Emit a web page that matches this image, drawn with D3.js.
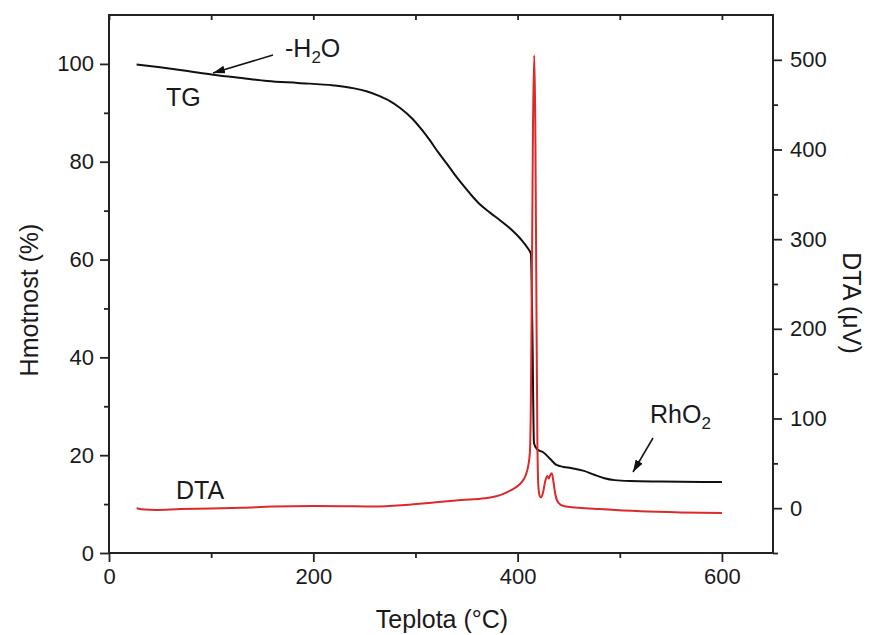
<!DOCTYPE html>
<html>
<head>
<meta charset="utf-8">
<script src="https://cdn.jsdelivr.net/npm/d3@7"></script>
<style>
  html, body { margin: 0; padding: 0; background: #fff; }
  svg { display: block; }
  text { font-family: "Liberation Sans", Arial, Helvetica, sans-serif; fill: #1a1a1a; }
</style>
</head>
<body>
<svg id="chart" width="869" height="635"></svg>
<script>
// ---- Data ----
const tgTemp = [27, 50, 75, 102, 130, 155, 185, 220, 240, 252, 265, 275, 285, 297, 306, 314, 322, 331, 339, 347, 355, 363, 373, 383, 393, 403, 410, 413, 414.5, 416, 419, 425, 432, 438, 445, 452, 465, 475, 485, 495, 510, 540, 600];
const tgMass = [99.9, 99.3, 98.6, 97.8, 97.1, 96.5, 96.1, 95.6, 95.0, 94.4, 93.4, 92.4, 91.0, 88.8, 86.6, 84.4, 82.0, 79.5, 77.2, 75.1, 73.1, 71.3, 69.6, 68.0, 66.3, 64.2, 62.3, 61.2, 45, 22.5, 21.2, 20.6, 19.2, 18.0, 17.6, 17.4, 16.8, 16.0, 15.3, 14.9, 14.7, 14.6, 14.5];

const dtaTemp = [27, 35, 45, 70, 100, 130, 160, 200, 230, 260, 290, 320, 345, 368, 380, 390, 398, 404, 408, 410, 412, 413, 414, 415, 416.3, 417.3, 418.3, 419.3, 420.3, 421.5, 423, 425, 427, 429, 430.5, 432, 433.5, 435, 437, 440, 445, 460, 480, 520, 560, 600];
const dtaVal  = [0, -1.5, -2, -1, -0.3, 0.5, 1.8, 2.5, 2.2, 1.8, 3.5, 6.5, 9, 11, 13.5, 18, 23, 29, 37, 45, 62, 120, 260, 420, 505, 430, 250, 80, 25, 14, 12, 18, 30, 36, 33, 37, 39, 30, 15, 6, 2.5, 0.5, -1, -3.5, -4.8, -5.5];

const xMajor = [0, 200, 400, 600];
const xMinor = [100, 300, 500];
const yLeftMajor = [0, 20, 40, 60, 80, 100];
const yLeftMinor = [10, 30, 50, 70, 90];
const yRightMajor = [0, 100, 200, 300, 400, 500];
const yRightMinor = [-50, 50, 150, 250, 350, 450];

// ---- Layout ----
const L = 109, R = 773, T = 15, B = 553;
const svg = d3.select("#chart");

const x = d3.scaleLinear().domain([0, 650]).range([L, R]);
const yL = d3.scaleLinear().domain([0, 110]).range([B, T]);
const yR = d3.scaleLinear().domain([-50, 550]).range([B, T]);

const axisColor = "#222";

function styleAxis(g, fs) {
  g.select(".domain").remove();
  g.selectAll(".tick line").attr("stroke", axisColor).attr("stroke-width", 1.8);
  g.selectAll(".tick text").attr("font-size", fs).attr("fill", "#1a1a1a")
    .attr("font-family", "'Liberation Sans', Arial, sans-serif");
}

// bottom axis
svg.append("g").attr("transform", `translate(0,${B})`)
  .call(d3.axisBottom(x).tickValues(xMajor).tickSize(9).tickPadding(6).tickFormat(d3.format("d")))
  .call(g => styleAxis(g, 22));
svg.append("g").attr("transform", `translate(0,${B})`)
  .call(d3.axisBottom(x).tickValues(xMinor).tickSize(5).tickFormat(""))
  .call(g => styleAxis(g, 22));
// top ticks (inward)
svg.append("g").attr("transform", `translate(0,${T})`)
  .call(d3.axisBottom(x).tickValues(xMajor.concat(xMinor)).tickSize(5).tickFormat(""))
  .call(g => styleAxis(g, 22));

// left axis
svg.append("g").attr("transform", `translate(${L},0)`)
  .call(d3.axisLeft(yL).tickValues(yLeftMajor).tickSize(9).tickPadding(6).tickFormat(d3.format("d")))
  .call(g => styleAxis(g, 22));
svg.append("g").attr("transform", `translate(${L},0)`)
  .call(d3.axisLeft(yL).tickValues(yLeftMinor).tickSize(5).tickFormat(""))
  .call(g => styleAxis(g, 22));

// right axis
svg.append("g").attr("transform", `translate(${R},0)`)
  .call(d3.axisRight(yR).tickValues(yRightMajor).tickSize(9).tickPadding(8).tickFormat(d3.format("d")))
  .call(g => styleAxis(g, 22));
svg.append("g").attr("transform", `translate(${R},0)`)
  .call(d3.axisRight(yR).tickValues(yRightMinor).tickSize(5).tickFormat(""))
  .call(g => styleAxis(g, 22));

// frame
svg.append("rect").attr("x", L).attr("y", T).attr("width", R - L).attr("height", B - T)
  .attr("fill", "none").attr("stroke", axisColor).attr("stroke-width", 2);

// ---- Lines ----
const tgData = tgTemp.map((t, i) => [t, tgMass[i]]);
const dtaData = dtaTemp.map((t, i) => [t, dtaVal[i]]);

const tgLine = d3.line().x(d => x(d[0])).y(d => yL(d[1])).curve(d3.curveMonotoneX);
const dtaLine = d3.line().x(d => x(d[0])).y(d => yR(d[1])).curve(d3.curveMonotoneX);

svg.append("path").datum(tgData).attr("d", tgLine)
  .attr("fill", "none").attr("stroke", "#111").attr("stroke-width", 2);
svg.append("path").datum(dtaData).attr("d", dtaLine)
  .attr("fill", "none").attr("stroke", "#dc2a2a").attr("stroke-width", 2);

// ---- Annotations ----
const defs = svg.append("defs");
defs.append("marker").attr("id", "arrow").attr("viewBox", "0 0 12 8")
  .attr("refX", 12).attr("refY", 4).attr("markerWidth", 12).attr("markerHeight", 8)
  .attr("markerUnits", "userSpaceOnUse").attr("orient", "auto")
  .append("path").attr("d", "M0,0 L12,4 L0,8 Z").attr("fill", "#111");

function arrow(x1, y1, x2, y2) {
  svg.append("line").attr("x1", x1).attr("y1", y1).attr("x2", x2).attr("y2", y2)
    .attr("stroke", "#111").attr("stroke-width", 1.5).attr("marker-end", "url(#arrow)");
}
arrow(273, 55, 213, 73);
arrow(653, 438, 633, 472);

const lab = svg.append("g").attr("font-size", 25);
lab.append("text").attr("x", 166).attr("y", 106).text("TG");
lab.append("text").attr("x", 176).attr("y", 499).text("DTA");
const h2o = lab.append("text").attr("x", 285).attr("y", 57);
h2o.append("tspan").text("-H");
h2o.append("tspan").attr("font-size", 17).attr("dy", 6).text("2");
h2o.append("tspan").attr("dy", -6).text("O");
const rho = lab.append("text").attr("x", 650).attr("y", 423);
rho.append("tspan").text("RhO");
rho.append("tspan").attr("font-size", 17).attr("dy", 6).text("2");

// axis titles
svg.append("text").attr("x", 442).attr("y", 628).attr("text-anchor", "middle")
  .attr("font-size", 25).text("Teplota (°C)");
svg.append("text").attr("transform", `translate(38,300) rotate(-90)`).attr("text-anchor", "middle")
  .attr("font-size", 25).text("Hmotnost (%)");
svg.append("text").attr("transform", `translate(843,303) rotate(90)`).attr("text-anchor", "middle")
  .attr("font-size", 25).text("DTA (μV)");
</script>
</body>
</html>
